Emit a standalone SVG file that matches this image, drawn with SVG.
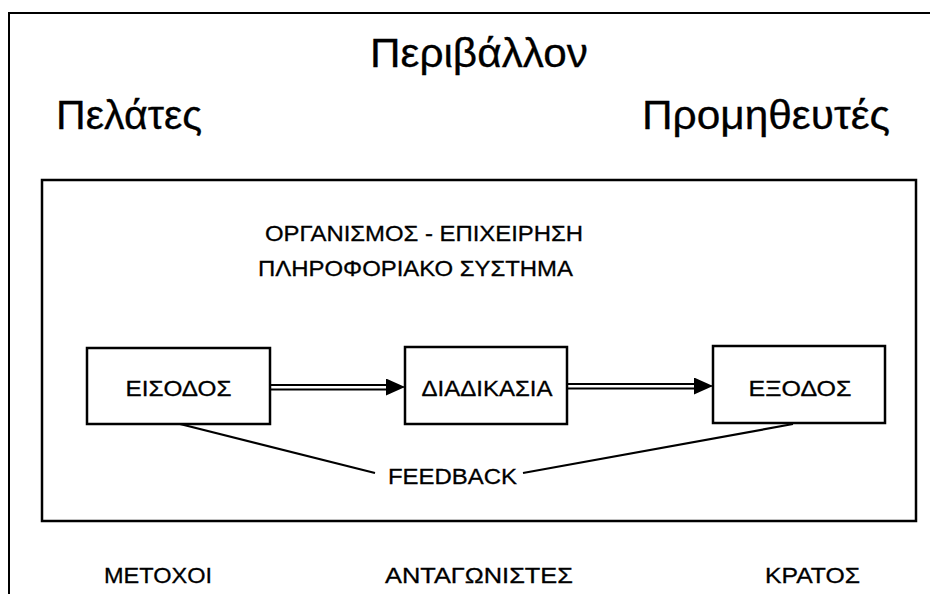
<svg xmlns="http://www.w3.org/2000/svg" width="930" height="594" viewBox="0 0 930 594">
<defs>
<style>
.t{font-family:"Liberation Sans",Arial,sans-serif;fill:#000;stroke:#000;stroke-width:0.3}
.big{font-size:41px}
.mid{font-size:22px}
.sm{font-size:22px}
.box{fill:#fff;stroke:#000;stroke-width:2.5}
.ln{stroke:#000;fill:none}
</style>
<marker id="ah" viewBox="0 0 19 17" refX="19" refY="8.5" markerWidth="19" markerHeight="17" markerUnits="userSpaceOnUse" orient="auto">
<path d="M0,0 L19,8.5 L0,17 Z" fill="#000"/>
</marker>
</defs>
<rect width="930" height="594" fill="#fff"/>
<g id="frame">
<line class="ln" x1="8" y1="13" x2="930" y2="13" stroke-width="2"/>
<line class="ln" x1="9" y1="12" x2="9" y2="594" stroke-width="2"/>
<rect x="42" y="180" width="874" height="341" fill="none" stroke="#000" stroke-width="2.5"/>
</g>
<g id="labels">
<text class="t big" x="370" y="67" textLength="218" lengthAdjust="spacingAndGlyphs">Περιβάλλον</text>
<text class="t big" x="56" y="129" textLength="146" lengthAdjust="spacingAndGlyphs">Πελάτες</text>
<text class="t big" x="642" y="129" textLength="248" lengthAdjust="spacingAndGlyphs">Προμηθευτές</text>
<text class="t mid" x="265" y="241" textLength="318" lengthAdjust="spacingAndGlyphs">ΟΡΓΑΝΙΣΜΟΣ - ΕΠΙΧΕΙΡΗΣΗ</text>
<text class="t mid" x="258" y="276" textLength="315" lengthAdjust="spacingAndGlyphs">ΠΛΗΡΟΦΟΡΙΑΚΟ ΣΥΣΤΗΜΑ</text>
<text class="t sm" x="104" y="583" textLength="108" lengthAdjust="spacingAndGlyphs">ΜΕΤΟΧΟΙ</text>
<text class="t sm" x="385" y="583" textLength="188" lengthAdjust="spacingAndGlyphs">ΑΝΤΑΓΩΝΙΣΤΕΣ</text>
<text class="t sm" x="765" y="583" textLength="95" lengthAdjust="spacingAndGlyphs">ΚΡΑΤΟΣ</text>
</g>
<g id="connectors">
<line class="ln" x1="270" y1="385" x2="392" y2="385" stroke-width="2"/>
<line class="ln" x1="270" y1="389.5" x2="392" y2="389.5" stroke-width="2"/>
<line class="ln" x1="390" y1="387" x2="405" y2="387" stroke-width="1" marker-end="url(#ah)"/>
<line class="ln" x1="567" y1="384" x2="700" y2="384" stroke-width="2"/>
<line class="ln" x1="567" y1="388.5" x2="700" y2="388.5" stroke-width="2"/>
<line class="ln" x1="698" y1="386" x2="713" y2="386" stroke-width="1" marker-end="url(#ah)"/>
<line class="ln" x1="180" y1="424" x2="375" y2="473" stroke-width="2.2"/>
<line class="ln" x1="523" y1="473" x2="793" y2="424" stroke-width="2.2"/>
</g>
<g id="eisodos">
<rect class="box" x="87" y="348" width="183" height="76"/>
<text class="t mid" x="178.5" y="396" text-anchor="middle" textLength="106" lengthAdjust="spacingAndGlyphs">ΕΙΣΟΔΟΣ</text>
</g>
<g id="diadikasia">
<rect class="box" x="405" y="347" width="162" height="77"/>
<text class="t mid" x="487" y="396" text-anchor="middle" textLength="131" lengthAdjust="spacingAndGlyphs">ΔΙΑΔΙΚΑΣΙΑ</text>
</g>
<g id="exodos">
<rect class="box" x="713" y="346" width="172" height="77"/>
<text class="t mid" x="800" y="396" text-anchor="middle" textLength="103" lengthAdjust="spacingAndGlyphs">ΕΞΟΔΟΣ</text>
</g>
<g id="feedback">
<text class="t mid" x="388" y="484" textLength="129" lengthAdjust="spacingAndGlyphs">FEEDBACK</text>
</g>
</svg>
